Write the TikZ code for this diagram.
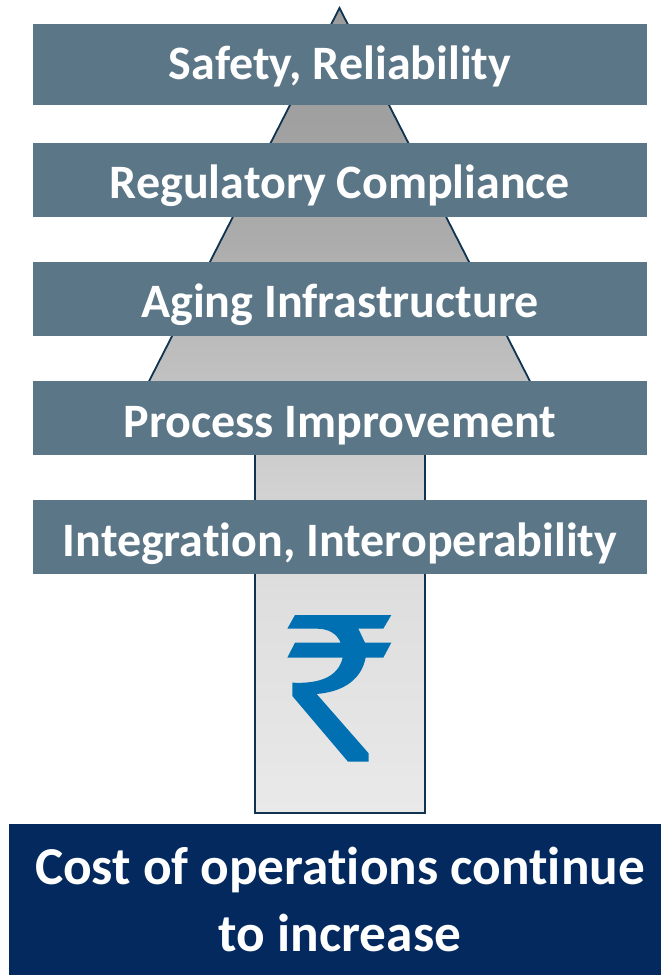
\documentclass[tikz,border=0pt]{standalone}
\usepackage{fontspec}
\setmainfont[RawFeature={-liga}]{Carlito}
\definecolor{barcol}{HTML}{5B7687}
\definecolor{navy}{HTML}{03295E}
\definecolor{edgecol}{HTML}{0F3350}
\definecolor{rupee}{HTML}{0070B2}
\definecolor{ga}{HTML}{9C9C9C}
\definecolor{gb}{HTML}{A0A0A0}
\definecolor{gc}{HTML}{ACACAC}
\definecolor{gd}{HTML}{CFCFCF}
\definecolor{ge}{HTML}{DEDEDE}
\definecolor{gf}{HTML}{E9E9E9}
\pgfdeclareverticalshading{arrowshade}{100bp}{color(0bp)=(gf); color(25bp)=(gf); color(38.8bp)=(ge); color(46.3bp)=(gd); color(60.6bp)=(gc); color(68bp)=(gb); color(75bp)=(ga); color(100bp)=(ga)}
\tikzset{
  barbox/.style={fill=barcol,text=white,inner sep=0pt,minimum width=614pt,anchor=center,text depth=0pt,font=\bfseries\fontsize{48}{56}\selectfont},
  navybox/.style={fill=navy},
  navytext/.style={text=white,inner sep=0pt,align=center,font=\bfseries\fontsize{53.3}{67}\selectfont},
}
\begin{document}
\begin{tikzpicture}[x=1pt,y=-1pt]
\useasboundingbox (0,0) rectangle (661,975);
\path[shading=arrowshade,draw=edgecol,line width=1.8pt,line join=miter]
  (339.5,8) -- (537,395) -- (425,395) -- (425,813) -- (255,813) -- (255,395) -- (142,395) -- cycle;
\node[barbox,minimum height=81pt,text height=29pt] (b1) at (340,64.5) {Safety, Reliability};
\node[barbox,minimum height=74pt,text height=36.6pt] (b2) at (340,180) {Regulatory Compliance};
\node[barbox,minimum height=74pt,text height=37pt] (b3) at (340,299) {Aging Infrastructure};
\node[barbox,minimum height=74pt,text height=38pt] (b4) at (340,418) {Process Improvement};
\node[barbox,minimum height=74pt,text height=38pt] (b5) at (340,537) {Integration, Interoperability};
\fill[navybox] (9,824) rectangle (661,975);
\node[navytext] (c) at (340,899.5) {Cost of operations continue\\to increase};
\begin{scope}[shift={(230,590)},x=0.3333pt,y=-0.3333pt]
\fill[rupee] (195,75) -- (484,75) -- (460,116) -- (385,116) -- (405,158) -- (484,158) -- (460,203) -- (407,203)
  .. controls (395,265) and (345,305) .. (260,312)
  -- (416,490) -- (416,515) -- (354,515) -- (187,318) -- (187,278)
  .. controls (270,282) and (325,260) .. (338,203)
  -- (172,203) -- (195,158) -- (332,158)
  .. controls (320,130) and (295,116) .. (260,116)
  -- (172,116) -- cycle;
\end{scope}
\end{tikzpicture}
\end{document}
